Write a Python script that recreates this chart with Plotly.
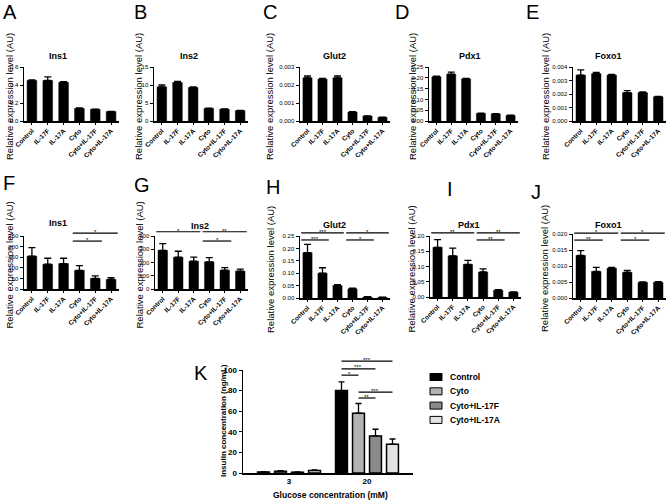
import plotly.graph_objects as go

W, H = 668, 502
FONT = "Arial, Liberation Sans, Helvetica, sans-serif"

groups = ["Control", "IL-17F", "IL-17A", "Cyto", "Cyto+IL-17F", "Cyto+IL-17A"]

# ---- Row 1 (A-E) ----
a_ins1 = [0.45, 0.45, 0.43, 0.14, 0.13, 0.105]
a_ins1_err = [0.008, 0.04, 0.008, 0.005, 0.003, 0.003]
b_ins2 = [9.5, 10.7, 9.3, 3.5, 3.3, 2.9]
b_ins2_err = [0.5, 0.3, 0.2, 0.08, 0.05, 0.05]
c_glut2 = [0.0024, 0.00233, 0.0024, 0.0005, 0.00028, 0.0002]
c_glut2_err = [0.0001, 0.00003, 0.0001, 0.00002, 0.00001, 0.00001]
d_pdx1 = [0.205, 0.217, 0.195, 0.035, 0.033, 0.026]
d_pdx1_err = [0.003, 0.009, 0.002, 0.001, 0.001, 0.001]
e_foxo1 = [0.0034, 0.0035, 0.0034, 0.0021, 0.0021, 0.0018]
e_foxo1_err = [0.00038, 0.0001, 0.00005, 0.00015, 0.00005, 0.00002]

# ---- Row 2 (F-J) ----
f_ins1 = [155, 117, 120, 88, 50, 45]
f_ins1_err = [40, 28, 25, 22, 12, 8]
g_ins2 = [292, 240, 210, 205, 142, 135]
g_ins2_err = [50, 45, 30, 32, 20, 15]
h_glut2 = [0.183, 0.100, 0.050, 0.037, 0.004, 0.003]
h_glut2_err = [0.033, 0.022, 0.004, 0.003, 0.001, 0.0005]
i_pdx1 = [0.163, 0.135, 0.107, 0.082, 0.022, 0.016]
i_pdx1_err = [0.025, 0.025, 0.013, 0.010, 0.002, 0.001]
j_foxo1 = [0.0133, 0.0083, 0.0093, 0.0080, 0.0049, 0.0049]
j_foxo1_err = [0.0015, 0.0013, 0.0003, 0.0006, 0.0001, 0.0002]

# significance brackets: (from group, to group, height in data units, label)
f_sig = [(3, 5, 264, "*"), (3, 4, 226, "*")]
g_sig = [(0, 2, 432, "*"), (3, 5, 432, "**"), (3, 4, 362, "*")]
h_sig = [(0, 2, 0.263, "***"), (0, 1, 0.234, "***"), (3, 5, 0.263, "*"), (3, 4, 0.234, "*")]
i_sig = [(0, 2, 0.210, "**"), (3, 5, 0.210, "**"), (3, 4, 0.187, "**")]
j_sig = [(0, 2, 0.0203, "*"), (0, 1, 0.0181, "**"), (3, 5, 0.0203, "*"), (3, 4, 0.0181, "*")]

# ---- Panel K ----
k_glucose = ["3", "20"]
k_series = ["Control", "Cyto", "Cyto+IL-17F", "Cyto+IL-17A"]
k_control = [1.0, 80]
k_control_err = [0.4, 8.5]
k_cyto = [1.8, 58]
k_cyto_err = [0.5, 9.5]
k_il17f = [0.8, 36]
k_il17f_err = [0.3, 6.5]
k_il17a = [2.5, 28]
k_il17a_err = [0.5, 5]
k_sig = [(0, 3, 108.7, "***"), (0, 2, 101, "***"), (0, 1, 95, "*"), (1, 3, 78.6, "***"), (1, 2, 72.8, "**")]

# ---- layout configuration (pixels) ----
panels = [
    dict(letter="A", gene="Ins1", y=a_ins1, e=a_ins1_err, ymax=0.6, dtick=0.2, fmt=".1f",
         box=(24, 119, 67, 121), gxy=(58, 56), ytx=9, lxy=(1, 12.5), sig=[]),
    dict(letter="B", gene="Ins2", y=b_ins2, e=b_ins2_err, ymax=15, dtick=5, fmt="d",
         box=(154, 248, 67, 121), gxy=(189, 56), ytx=138, lxy=(132, 12.5), sig=[]),
    dict(letter="C", gene="Glut2", y=c_glut2, e=c_glut2_err, ymax=0.003, dtick=0.001, fmt=".3f",
         box=(300, 390, 67, 121), gxy=(334, 56), ytx=269, lxy=(261, 12.5), sig=[]),
    dict(letter="D", gene="Pdx1", y=d_pdx1, e=d_pdx1_err, ymax=0.25, dtick=0.05, fmt=".2f",
         box=(429, 518, 67, 121), gxy=(470, 56), ytx=412, lxy=(393, 12.5), sig=[]),
    dict(letter="E", gene="Foxo1", y=e_foxo1, e=e_foxo1_err, ymax=0.004, dtick=0.001, fmt=".3f",
         box=(573, 666, 67, 121), gxy=(608, 56), ytx=545, lxy=(524, 12.5), sig=[]),
    dict(letter="F", gene="Ins1", y=f_ins1, e=f_ins1_err, ymax=250, dtick=50, fmt="d",
         box=(24, 119, 236, 289), gxy=(58, 223), ytx=9, lxy=(1, 183), sig=f_sig),
    dict(letter="G", gene="Ins2", y=g_ins2, e=g_ins2_err, ymax=400, dtick=100, fmt="d",
         box=(155, 248, 236, 289), gxy=(200, 226), ytx=139, lxy=(132, 185), sig=g_sig),
    dict(letter="H", gene="Glut2", y=h_glut2, e=h_glut2_err, ymax=0.25, dtick=0.05, fmt=".2f",
         box=(300, 390, 236, 298), gxy=(334, 225), ytx=270, lxy=(264, 187), sig=h_sig),
    dict(letter="I", gene="Pdx1", y=i_pdx1, e=i_pdx1_err, ymax=0.20, dtick=0.05, fmt=".2f",
         box=(430, 521, 236, 297), gxy=(469, 225), ytx=411, lxy=(445, 189), sig=i_sig),
    dict(letter="J", gene="Foxo1", y=j_foxo1, e=j_foxo1_err, ymax=0.020, dtick=0.005, fmt=".3f",
         box=(573, 666, 234, 298), gxy=(608, 225), ytx=544, lxy=(529, 192), sig=j_sig),
]


def fx(px):
    return px / W


def fy(py):
    return 1 - py / H


fig = go.Figure()
layout = dict(
    template="none",
    width=W, height=H, margin=dict(l=0, r=0, t=0, b=0, autoexpand=False),
    paper_bgcolor="white", plot_bgcolor="white", showlegend=False,
    barmode="group", bargap=0.128, bargroupgap=0.3,
    font=dict(family=FONT, color="black"),
)
shapes = []
annotations = []

for k, p in enumerate(panels, start=1):
    xn = "x" if k == 1 else f"x{k}"
    yn = "y" if k == 1 else f"y{k}"
    x0, x1, y0, y1 = p["box"]
    fig.add_trace(go.Bar(
        x=groups, y=p["y"], xaxis=xn, yaxis=yn,
        marker=dict(color="black", line=dict(color="black", width=0.5)),
        error_y=dict(type="data", array=p["e"], arrayminus=[0] * len(p["e"]), symmetric=False,
                     color="black", thickness=1.3, width=3.5),
    ))
    layout["xaxis" if k == 1 else f"xaxis{k}"] = dict(
        domain=[fx(x0), fx(x1)], anchor=yn, type="category", range=[-0.5, 5.5],
        showline=True, linecolor="black", linewidth=1.5, ticks="outside", ticklen=2,
        tickwidth=1, tickcolor="black", tickangle=-45, automargin=False,
        tickfont=dict(size=6.5, family=FONT, weight="bold"),
        showgrid=False, zeroline=False, fixedrange=True,
    )
    layout["yaxis" if k == 1 else f"yaxis{k}"] = dict(
        domain=[fy(y1), fy(y0)], anchor=xn, range=[0, p["ymax"]], tick0=0, dtick=p["dtick"],
        tickformat=p["fmt"], showline=True, linecolor="black", linewidth=1.5, ticks="outside",
        ticklen=3, tickwidth=1, tickcolor="black", tickfont=dict(size=6, family=FONT),
        showgrid=False, zeroline=False, fixedrange=True, automargin=False,
    )
    # gene title
    annotations.append(dict(text=f"<b>{p['gene']}</b>", x=fx(p["gxy"][0]), y=fy(p["gxy"][1]),
                            xref="paper", yref="paper", xanchor="center", yanchor="middle",
                            showarrow=False, font=dict(size=9, family=FONT)))
    # y title
    annotations.append(dict(text="Relative expression level (AU)", x=fx(p["ytx"]),
                            y=fy((y0 + y1) / 2 + 3), xref="paper", yref="paper",
                            xanchor="center", yanchor="middle", textangle=-90, showarrow=False,
                            font=dict(size=9.5, family=FONT)))
    # panel letter
    annotations.append(dict(text=p["letter"], x=fx(p["lxy"][0]), y=fy(p["lxy"][1]),
                            xref="paper", yref="paper", xanchor="left", yanchor="middle",
                            showarrow=False, font=dict(size=20, family=FONT)))
    # significance brackets
    for (i, j, hv, lab) in p["sig"]:
        xs = (i - 0.42 + 0.5) / 6
        xe = (j + 0.42 + 0.5) / 6
        yv = hv / p["ymax"]
        shapes.append(dict(type="line", xref=f"{xn} domain", yref=f"{yn} domain",
                           x0=xs, x1=xe, y0=yv, y1=yv, line=dict(color="black", width=1.2)))
        annotations.append(dict(text=lab, x=(xs + xe) / 2, y=yv, xref=f"{xn} domain",
                                yref=f"{yn} domain", xanchor="center", yanchor="middle",
                                yshift=1, showarrow=False, font=dict(size=6, family=FONT)))

# ---- Panel K ----
kk = len(panels) + 1
xn, yn = f"x{kk}", f"y{kk}"
k_vals = [k_control, k_cyto, k_il17f, k_il17a]
k_errs = [k_control_err, k_cyto_err, k_il17f_err, k_il17a_err]
k_colors = ["#000000", "#b3b3b3", "#8a8a8a", "#e3e3e3"]
for name, vals, errs, col in zip(k_series, k_vals, k_errs, k_colors):
    fig.add_trace(go.Bar(
        x=k_glucose, y=vals, name=name, xaxis=xn, yaxis=yn,
        marker=dict(color=col, line=dict(color="black", width=1.5)),
        error_y=dict(type="data", array=errs, arrayminus=[0] * len(errs), symmetric=False,
                     color="black", thickness=1.3, width=3),
    ))
kx0, kx1, ky0, ky1 = 243, 413, 370, 473
k_range = [-0.59, 1.59]
layout[f"xaxis{kk}"] = dict(
    domain=[fx(kx0), fx(kx1)], anchor=yn, type="category", range=k_range,
    showline=True, linecolor="black", linewidth=1.5, ticks="", automargin=False,
    tickfont=dict(size=8, family=FONT, weight="bold"), showgrid=False, zeroline=False,
    fixedrange=True,
)
layout[f"yaxis{kk}"] = dict(
    domain=[fy(ky1), fy(ky0)], anchor=xn, range=[0, 100], tick0=0, dtick=20,
    showline=True, linecolor="black", linewidth=1.5, ticks="outside", ticklen=3, tickwidth=1,
    tickcolor="black", tickfont=dict(size=8, family=FONT, weight="bold"),
    showgrid=False, zeroline=False, fixedrange=True, automargin=False,
)
slot = (1 - layout["bargap"]) / len(k_series)
span = k_range[1] - k_range[0]


def kpos(s, g=1):
    return (g + (s - (len(k_series) - 1) / 2) * slot - k_range[0]) / span


for (i, j, hv, lab) in k_sig:
    xs, xe, yv = kpos(i), kpos(j), hv / 100
    shapes.append(dict(type="line", xref=f"{xn} domain", yref=f"{yn} domain",
                       x0=xs, x1=xe, y0=yv, y1=yv, line=dict(color="black", width=1.2)))
    annotations.append(dict(text=lab, x=(xs + xe) / 2, y=yv, xref=f"{xn} domain",
                            yref=f"{yn} domain", xanchor="center", yanchor="middle",
                            yshift=1.5, showarrow=False, font=dict(size=6, family=FONT)))

annotations.append(dict(text="<b>Insulin concentration (ng/mL)</b>", x=fx(223), y=fy(421),
                        xref="paper", yref="paper", xanchor="center", yanchor="middle",
                        textangle=-90, showarrow=False, font=dict(size=8, family=FONT)))
annotations.append(dict(text="<b>Glucose concentration (mM)</b>", x=fx(330), y=fy(495),
                        xref="paper", yref="paper", xanchor="center", yanchor="middle",
                        showarrow=False, font=dict(size=8.5, family=FONT)))
annotations.append(dict(text="K", x=fx(192), y=fy(372.5), xref="paper", yref="paper",
                        xanchor="left", yanchor="middle", showarrow=False,
                        font=dict(size=20, family=FONT)))

# manual legend for K
for n, (name, col) in enumerate(zip(k_series, k_colors)):
    cy = 377 + n * 14.3
    shapes.append(dict(type="rect", xref="paper", yref="paper", x0=fx(430), x1=fx(442),
                       y0=fy(cy + 3.5), y1=fy(cy - 3.5), fillcolor=col,
                       line=dict(color="black", width=1)))
    annotations.append(dict(text=f"<b>{name}</b>", x=fx(448), y=fy(cy), xref="paper",
                            yref="paper", xanchor="left", yanchor="middle", showarrow=False,
                            font=dict(size=8.5, family=FONT)))

layout["shapes"] = shapes
layout["annotations"] = annotations
fig.update_layout(**layout)
fig.write_html("out.html", config={"displayModeBar": False, "staticPlot": True},
               post_script="document.body.style.margin='0';document.body.style.overflow='hidden';")
